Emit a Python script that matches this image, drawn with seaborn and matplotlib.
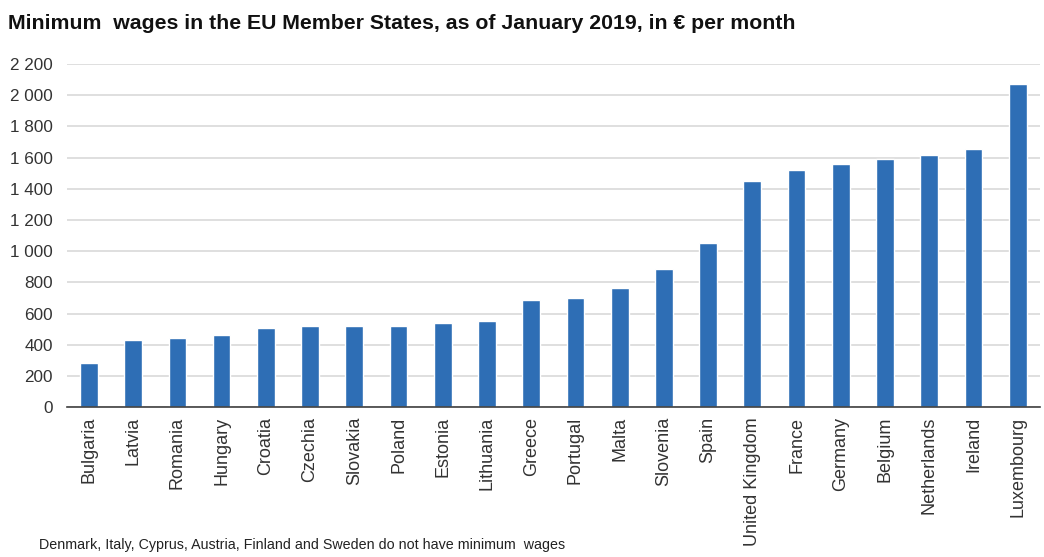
import pandas as pd
import matplotlib
matplotlib.use("Agg")
import matplotlib.pyplot as plt
import seaborn as sns

countries = ["Bulgaria", "Latvia", "Romania", "Hungary", "Croatia", "Czechia",
             "Slovakia", "Poland", "Estonia", "Lithuania", "Greece", "Portugal",
             "Malta", "Slovenia", "Spain", "United Kingdom", "France", "Germany",
             "Belgium", "Netherlands", "Ireland", "Luxembourg"]
wages = [286, 430, 446, 464, 506, 519, 520, 523, 540, 555, 684, 700,
         762, 887, 1050, 1453, 1521, 1557, 1594, 1616, 1656, 2071]
yticks = [0, 200, 400, 600, 800, 1000, 1200, 1400, 1600, 1800, 2000, 2200]

df = pd.DataFrame({"country": countries, "wage": wages})

sns.set_style("white")
plt.rcParams["font.family"] = ["Liberation Sans", "DejaVu Sans"]

fig = plt.figure(figsize=(10.44, 5.57), dpi=100)
ax = fig.add_axes([0.064, 0.269, 0.932, 0.616])

sns.barplot(data=df, x="country", y="wage", color="#2E6EB5", width=0.4,
            saturation=1, ax=ax)

ax.set_ylim(0, 2200)
ax.set_yticks(yticks)
ax.set_yticklabels([f"{v:,}".replace(",", " ") for v in yticks], fontsize=12.3, color="#333333")
ax.yaxis.grid(True, color="#D9D9D9", linewidth=1.2)
ax.set_axisbelow(True)
ax.set_xlim(-0.5, len(countries) - 0.5)
ax.set_xticks(range(len(countries)))
ax.set_xticklabels(countries, rotation=90, fontsize=13, color="#333333")
ax.tick_params(axis="y", length=0, pad=10)
ax.tick_params(axis="x", length=0, pad=7)
ax.set_xlabel("")
ax.set_ylabel("")
for s in ["top", "right", "left"]:
    ax.spines[s].set_visible(False)
ax.spines["bottom"].set_color("#404040")
ax.spines["bottom"].set_linewidth(1.2)

fig.text(0.008, 0.958, "Minimum  wages in the EU Member States, as of January 2019, in \u20ac per month",
         fontsize=15.3, fontweight="bold", color="#111111", ha="left", va="center")
fig.text(0.037, 0.022, "Denmark, Italy, Cyprus, Austria, Finland and Sweden do not have minimum  wages",
         fontsize=10.3, color="#222222", ha="left", va="center")

fig.savefig("out.png", dpi=100)
